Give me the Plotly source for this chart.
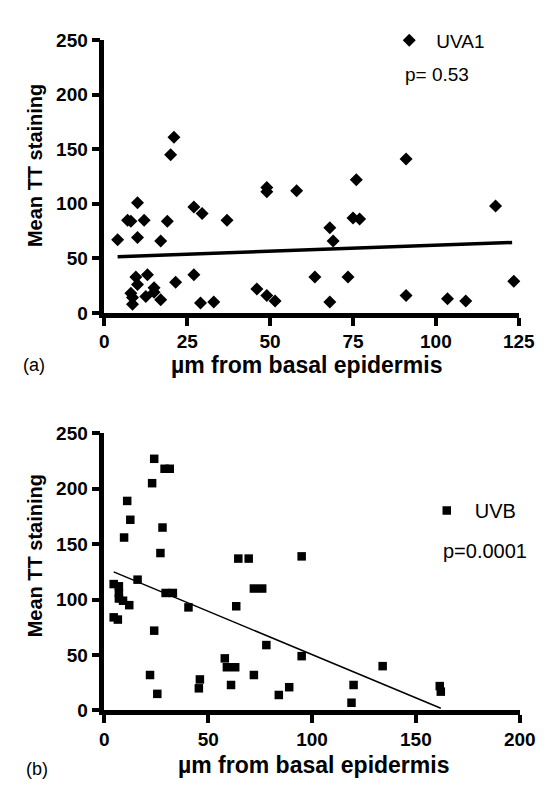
import plotly.graph_objects as go

# ---------- Data ----------
uva1_x = [4, 7, 8, 10, 12, 10, 17, 19, 20, 21, 27, 29.5, 37, 49, 49, 58,
          9.5, 10, 13, 8, 8.5, 8.5, 12.5, 15, 15, 17, 21.5, 27, 29, 33,
          46, 49, 51.5, 63.5, 68, 68, 69, 73.5, 76, 75, 77, 91, 91,
          103.5, 109, 118, 123.5]
uva1_y = [67, 85, 84, 101, 85, 69, 66, 84, 145, 161, 97, 91, 85, 115, 111, 112,
          33, 26, 35, 18, 14, 8, 15, 23, 19, 12, 28, 35, 9, 10,
          22, 16, 11, 33, 10, 78, 66, 33, 122, 87, 86, 141, 16,
          13, 11, 98, 29]
uva1_fit_x = [4, 123]
uva1_fit_y = [51.5, 64.5]

uvb_x = [24, 29, 31.5, 23, 11, 12.5, 9.5, 28, 27, 16, 4.5, 7, 7, 7, 9, 12,
         4.5, 6.5, 29.5, 33, 40.5, 24, 22, 25.5, 46, 45.5, 64.5, 69.5, 72, 76,
         63.5, 78, 58, 59, 63, 72, 61, 84, 89, 95, 95, 134, 120, 119, 161.5, 162]
uvb_y = [227, 218, 218, 205, 189, 172, 156, 165, 142, 118, 114, 112, 106, 101, 99, 95,
         84, 82, 106, 106, 93, 72, 32, 15, 28, 20, 137, 137, 110, 110,
         94, 59, 47, 39, 39, 32, 23, 14, 21, 139, 49, 40, 23, 7, 22, 17]
uvb_fit_x = [4.5, 162]
uvb_fit_y = [125, 2]

x1_ticks = [0, 25, 50, 75, 100, 125]
x2_ticks = [0, 50, 100, 150, 200]
y_ticks = [0, 50, 100, 150, 200, 250]

# ---------- Figure ----------
W, H = 546, 786
FONT = "Liberation Sans, Arial, sans-serif"


def px_x(p):
    return p / W


def px_y(p):
    return 1 - p / H


fig = go.Figure()

fig.add_trace(go.Scatter(
    x=uva1_x, y=uva1_y, mode="markers", name="UVA1",
    marker=dict(symbol="diamond", size=10, color="black"),
    xaxis="x", yaxis="y", legend="legend", cliponaxis=False))
fig.add_trace(go.Scatter(
    x=uva1_fit_x, y=uva1_fit_y, mode="lines", showlegend=False,
    line=dict(color="black", width=3.5), xaxis="x", yaxis="y"))

fig.add_trace(go.Scatter(
    x=uvb_x, y=uvb_y, mode="markers", name="UVB",
    marker=dict(symbol="square", size=8.5, color="black"),
    xaxis="x2", yaxis="y2", legend="legend2", cliponaxis=False))
fig.add_trace(go.Scatter(
    x=uvb_fit_x, y=uvb_fit_y, mode="lines", showlegend=False,
    line=dict(color="black", width=1.5), xaxis="x2", yaxis="y2"))

axis_common = dict(
    showline=True, linecolor="black", linewidth=4.5,
    ticks="outside", ticklen=8, tickwidth=4, tickcolor="black",
    showgrid=False, zeroline=False,
    tickfont=dict(family=FONT, size=19, color="black", weight="bold"),
)

fig.update_layout(
    width=W, height=H,
    margin=dict(l=0, r=0, t=0, b=0),
    paper_bgcolor="white", plot_bgcolor="white",
    font=dict(family=FONT, color="black"),
    xaxis=dict(domain=[px_x(95), px_x(526)], range=[0, 125],
               tickvals=x1_ticks, anchor="y", **axis_common),
    yaxis=dict(domain=[px_y(303), px_y(22.7)], range=[0, 250],
               tickvals=y_ticks, anchor="x", **axis_common),
    xaxis2=dict(domain=[px_x(95), px_x(527)], range=[0, 200],
                tickvals=x2_ticks, anchor="y2", **axis_common),
    yaxis2=dict(domain=[px_y(711.5), px_y(426.7)], range=[0, 250],
                tickvals=y_ticks, anchor="x2", **axis_common),
    legend=dict(x=px_x(384), y=px_y(23), xanchor="left", yanchor="middle",
                itemwidth=44,
                bgcolor="rgba(0,0,0,0)", borderwidth=0,
                font=dict(family=FONT, size=19, color="black")),
    legend2=dict(x=px_x(422), y=px_y(506), xanchor="left", yanchor="middle",
                 itemwidth=46,
                 bgcolor="rgba(0,0,0,0)", borderwidth=0,
                 font=dict(family=FONT, size=20, color="black")),
    showlegend=True,
)

annos = [
    dict(text="<b>Mean TT staining</b>", x=px_x(23), y=px_y(152), textangle=-90,
         font=dict(size=20)),
    dict(text="<b>Mean TT staining</b>", x=px_x(23), y=px_y(553), textangle=-90,
         font=dict(size=20)),
    dict(text="<b>\u00b5m from basal epidermis</b>", x=px_x(305), y=px_y(357),
         font=dict(size=23)),
    dict(text="<b>\u00b5m from basal epidermis</b>", x=px_x(312), y=px_y(768),
         font=dict(size=23)),
    dict(text="(a)", x=px_x(22), y=px_y(357), font=dict(size=18)),
    dict(text="(b)", x=px_x(25), y=px_y(772), font=dict(size=18)),
    dict(text="p= 0.53", x=px_x(406), y=px_y(58), xanchor="left", font=dict(size=19)),
    dict(text="p=0.0001", x=px_x(445), y=px_y(548), xanchor="left", font=dict(size=20)),
]
for a in annos:
    a.setdefault("xanchor", "center")
    a.update(xref="paper", yref="paper", yanchor="middle", showarrow=False)
    a["font"].update(family=FONT, color="black")
    fig.add_annotation(**a)

fig.write_html("out.html")
